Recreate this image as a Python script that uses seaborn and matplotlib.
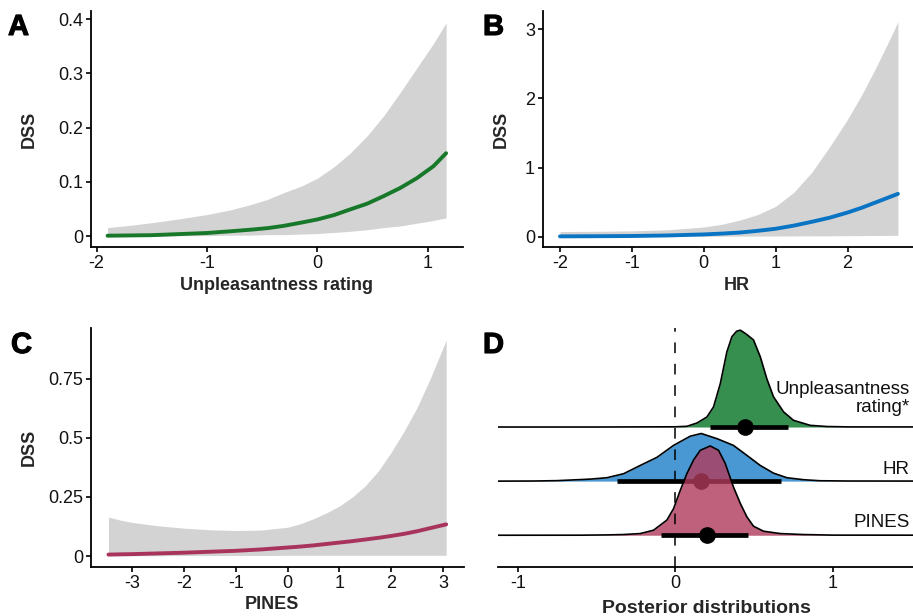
import matplotlib
matplotlib.use('Agg')
import matplotlib.pyplot as plt
import matplotlib.patheffects as pe
import seaborn as sns

# Panel A: unpleasantness rating -> DSS
unp_x = [-1.9, -1.7, -1.5, -1.25, -1.0, -0.8, -0.61, -0.45, -0.31, -0.15, 0.0,
         0.15, 0.29, 0.45, 0.6, 0.75, 0.9, 1.05, 1.165]
unp_mean = [0.001, 0.0015, 0.002, 0.004, 0.006, 0.009, 0.012, 0.015, 0.019, 0.025, 0.031,
            0.039, 0.049, 0.06, 0.074, 0.089, 0.107, 0.129, 0.153]
unp_upper = [0.016, 0.020, 0.025, 0.032, 0.040, 0.048, 0.058, 0.068, 0.080, 0.092, 0.107,
             0.128, 0.152, 0.185, 0.222, 0.265, 0.31, 0.355, 0.393]
unp_lower = [0.0, 0.0, 0.0, 0.001, 0.001, 0.002, 0.002, 0.003, 0.003, 0.004, 0.005,
             0.007, 0.009, 0.012, 0.016, 0.019, 0.024, 0.029, 0.034]

# Panel B: HR -> DSS
hr_x = [-2.0, -1.5, -1.0, -0.5, 0.0, 0.25, 0.5, 0.75, 1.0, 1.25, 1.5, 1.75, 2.0,
        2.2, 2.4, 2.55, 2.7]
hr_mean = [0.005, 0.007, 0.01, 0.018, 0.033, 0.045, 0.06, 0.085, 0.115, 0.16, 0.215,
           0.275, 0.35, 0.42, 0.5, 0.56, 0.62]
hr_upper = [0.075, 0.078, 0.085, 0.10, 0.14, 0.18, 0.24, 0.32, 0.44, 0.64, 0.93,
            1.30, 1.70, 2.06, 2.46, 2.78, 3.11]
hr_lower = [0.003, 0.003, 0.004, 0.005, 0.006, 0.007, 0.008, 0.009, 0.01, 0.011, 0.012,
            0.013, 0.015, 0.016, 0.018, 0.019, 0.02]

# Panel C: PINES -> DSS
pines_x = [-3.46, -3.25, -3.0, -2.5, -2.0, -1.5, -1.0, -0.5, 0.0, 0.25, 0.5, 0.75,
           1.0, 1.25, 1.5, 1.75, 2.0, 2.25, 2.5, 2.75, 3.06]
pines_mean = [0.006, 0.007, 0.008, 0.011, 0.014, 0.018, 0.022, 0.028, 0.036, 0.04, 0.045,
              0.051, 0.057, 0.063, 0.07, 0.077, 0.085, 0.094, 0.105, 0.118, 0.134]
pines_upper = [0.165, 0.153, 0.142, 0.128, 0.118, 0.111, 0.108, 0.110, 0.122, 0.137, 0.158,
               0.183, 0.212, 0.25, 0.298, 0.36, 0.44, 0.53, 0.63, 0.75, 0.915]
pines_lower = [0.001, 0.001, 0.001, 0.001, 0.002, 0.002, 0.002, 0.002, 0.003, 0.003, 0.003,
               0.003, 0.003, 0.003, 0.003, 0.003, 0.003, 0.003, 0.003, 0.003, 0.003]

# Panel D: posterior densities (heights in ridge units)
post_labels = ['Unpleasantness\nrating*', 'HR', 'PINES']
post_rows = [3, 2, 1]
unp_dx = [-1.13, -0.5, 0.0, 0.074, 0.138, 0.201, 0.243, 0.286, 0.328, 0.36, 0.39, 0.413,
          0.45, 0.497, 0.54, 0.582, 0.624, 0.688, 0.751, 0.857, 0.963, 1.1, 2.2]
unp_dens = [0, 0, 0.004, 0.013, 0.074, 0.185, 0.37, 0.80, 1.39, 1.67, 1.77, 1.79,
            1.72, 1.61, 1.30, 0.89, 0.56, 0.28, 0.124, 0.031, 0.009, 0.002, 0]
hr_dx = [-1.13, -0.9, -0.75, -0.62, -0.54, -0.434, -0.328, -0.222, -0.116, -0.011, 0.095,
         0.165, 0.265, 0.37, 0.455, 0.54, 0.624, 0.709, 0.815, 0.92, 1.1, 2.2]
hr_dens = [0, 0.002, 0.009, 0.026, 0.037, 0.063, 0.137, 0.29, 0.44, 0.66, 0.83,
           0.88, 0.785, 0.66, 0.476, 0.29, 0.148, 0.063, 0.026, 0.007, 0.002, 0]
pines_dx = [-1.13, -0.6, -0.43, -0.328, -0.222, -0.138, -0.053, -0.011, 0.032, 0.074, 0.116,
            0.159, 0.222, 0.275, 0.317, 0.37, 0.413, 0.455, 0.497, 0.561, 0.667, 0.81, 1.0, 2.2]
pines_dens = [0, 0.001, 0.006, 0.013, 0.031, 0.093, 0.28, 0.49, 0.83, 1.14, 1.39,
              1.57, 1.65, 1.57, 1.33, 0.89, 0.59, 0.34, 0.167, 0.074, 0.031, 0.013, 0.002, 0]
post_est = [0.444, 0.165, 0.2]
post_lo = [0.218, -0.37, -0.09]
post_hi = [0.717, 0.672, 0.462]

sns.set_style('ticks')
plt.rcParams['font.family'] = ['Liberation Sans', 'DejaVu Sans']

W, H = 913, 616
fig = plt.figure(figsize=(W / 100, H / 100), dpi=100)


def px_axes(left, top, right, bottom):
    return fig.add_axes([left / W, 1 - bottom / H, (right - left) / W, (bottom - top) / H])


def style(ax):
    sns.despine(ax=ax)
    for s in ['left', 'bottom']:
        ax.spines[s].set_linewidth(1.3)
        ax.spines[s].set_color('black')
    ax.tick_params(length=3.8, width=1.2, color='black', labelsize=13,
                   labelcolor='#111111', pad=2)
    ax.grid(False)


def curve_panel(ax, x, mean, lo, hi, color, xlim, ylim, xt, yt, ytl, xlabel):
    ax.fill_between(x, lo, hi, color='#d3d3d3', lw=0)
    sns.lineplot(x=x, y=mean, ax=ax, color=color, lw=2.8, errorbar=None)
    ax.set_xlim(*xlim)
    ax.set_ylim(*ylim)
    ax.set_xticks(xt)
    ax.set_xticklabels([str(v) for v in xt])
    ax.set_yticks(yt)
    ax.set_yticklabels(ytl)
    ax.set_xlabel(xlabel, fontsize=13, fontweight='bold')
    ax.set_ylabel('DSS', fontsize=13, fontweight='bold')
    style(ax)


def place_labels(ax, xl_cx, xl_top, yl_right, yl_cy):
    ax.xaxis.set_label_coords(xl_cx / W, 1 - xl_top / H, transform=fig.transFigure)
    ax.yaxis.set_label_coords(yl_right / W, 1 - yl_cy / H, transform=fig.transFigure)


# A
axA = px_axes(91, 11, 463, 247)
curve_panel(axA, unp_x, unp_mean, unp_lower, unp_upper, '#18782a',
            (-2.05, 1.318), (-0.0198, 0.415), [-2, -1, 0, 1],
            [0, 0.1, 0.2, 0.3, 0.4], ['0', '0.1', '0.2', '0.3', '0.4'],
            'Unpleasantness rating')
place_labels(axA, 277, 277, 38, 129)

# B
axB = px_axes(543, 11, 931, 247)
curve_panel(axB, hr_x, hr_mean, hr_lower, hr_upper, '#0a74c4',
            (-2.236, 3.16), (-0.149, 3.266), [-2, -1, 0, 1, 2],
            [0, 1, 2, 3], ['0', '1', '2', '3'], 'HR')
place_labels(axB, 737, 277, 510, 129)

# C
axC = px_axes(91, 328, 464, 567)
curve_panel(axC, pines_x, pines_mean, pines_lower, pines_upper, '#a8345e',
            (-3.797, 3.404), (-0.0466, 0.966), [-3, -2, -1, 0, 1, 2, 3],
            [0, 0.25, 0.5, 0.75], ['0', '0.25', '0.5', '0.75'], 'PINES')
place_labels(axC, 272, 596, 38, 447)

# D
axD = px_axes(498, 328, 1000, 567)
ridges = [(unp_dx, unp_dens, '#368f4f', 1.0),
          (hr_dx, hr_dens, '#4a98d3', 1.0),
          (pines_dx, pines_dens, '#b03a5b', 0.8)]
label_lift = [0.272, 0.14, 0.155]
for i, (dx, dens, col, alpha) in enumerate(ridges):
    row = post_rows[i]
    top = [row + d for d in dens]
    axD.fill_between(dx, row, top, color=col, alpha=alpha, lw=0, zorder=2 + 3 * i)
    axD.plot(dx, top, color='black', lw=1.2, zorder=3 + 3 * i)
    axD.plot([post_lo[i], post_hi[i]], [row, row], color='black', lw=3.4,
             solid_capstyle='butt', zorder=4 + 3 * i)
    axD.plot([post_est[i]], [row], 'o', color='black', ms=11, zorder=4 + 3 * i)
    axD.text(1.49, row + label_lift[i], post_labels[i], ha='right', va='baseline',
             multialignment='right', fontsize=13.5, color='#111111', linespacing=1.1)

axD.axvline(0, color='black', lw=1.1, ls=(0, (7, 7)), zorder=20)
axD.set_xlim(-1.126, 2.063)
axD.set_ylim(0.413, 4.83)
axD.set_xticks([-1, 0, 1])
axD.set_xticklabels(['-1', '0', '1'])
axD.set_yticks([])
axD.set_xlabel('Posterior distributions', fontsize=14, fontweight='bold')
style(axD)
axD.spines['left'].set_visible(False)
axD.xaxis.set_label_coords(706.7 / W, 1 - 600 / H, transform=fig.transFigure)

# panel letters
for letter, x, y in [('A', 8, 35), ('B', 483, 35), ('C', 11, 353), ('D', 483, 353)]:
    fig.text(x / W, 1 - y / H, letter, fontsize=21, fontweight='bold',
             ha='left', va='baseline', color='black',
             path_effects=[pe.withStroke(linewidth=0.8, foreground='black')])

fig.savefig('out.png', dpi=100)
